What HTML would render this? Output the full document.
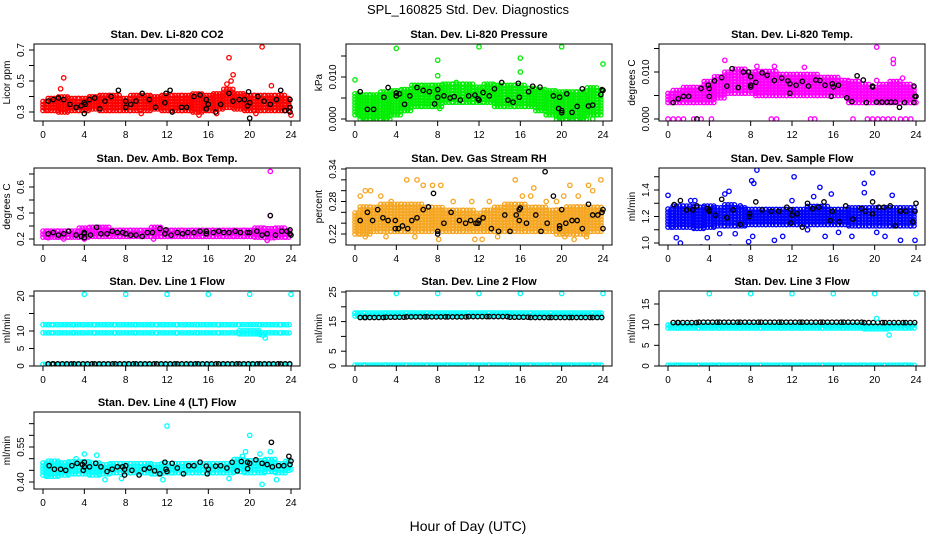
<!DOCTYPE html>
<html><head><meta charset="utf-8"><style>
html,body{margin:0;padding:0;background:#fff;}
svg{display:block;font-family:"Liberation Sans",Arial,sans-serif;}
</style></head><body>
<svg id="chart" width="936" height="540" viewBox="0 0 936 540" xmlns="http://www.w3.org/2000/svg">
<rect x="0" y="0" width="936" height="540" fill="#fff"/>
<text x="468" y="14" text-anchor="middle" font-size="13">SPL_160825  Std. Dev. Diagnostics</text>
<text x="468" y="531" text-anchor="middle" font-size="14">Hour of Day (UTC)</text>
</svg>
<script>
// ---- data ----
const xTicks = [0,4,8,12,16,20,24];

const p1Lo = [0.31,0.31,0.30,0.31,0.31,0.32,0.31,0.31,0.31,0.31,0.31,0.32,0.31,0.31,0.31,0.30,0.31,0.32,0.33,0.32,0.31,0.31,0.31,0.31,0.31];
const p1Hi = [0.38,0.40,0.41,0.40,0.40,0.41,0.41,0.41,0.40,0.41,0.42,0.41,0.41,0.41,0.42,0.42,0.42,0.43,0.46,0.43,0.42,0.42,0.41,0.41,0.40];
const p1Out = [[1.7,0.45],[2.0,0.52],[18,0.65],[18.4,0.54],[18.2,0.50],[17.8,0.48],[21.2,0.72],[22.1,0.47],[15.1,0.28],[24,0.28],[20.6,0.29],[16.8,0.29],[9.5,0.29]];
const p1Blk = [[0.5,0.37],[1,0.38],[1.5,0.39],[2,0.38],[2.6,0.35],[3.2,0.33],[3.7,0.34],[4,0.29],[4,0.36],[4.1,0.35],[4.5,0.38],[5,0.39],[5.5,0.32],[6,0.37],[6.6,0.40],[7.3,0.44],[8,0.37],[8,0.33],[8.5,0.35],[9,0.37],[9.6,0.42],[10.3,0.38],[10.9,0.33],[11.8,0.36],[11.9,0.42],[12.3,0.44],[12.5,0.30],[13.4,0.33],[13.9,0.33],[14.6,0.40],[15.2,0.41],[15.8,0.38],[15.8,0.32],[16,0.35],[16.7,0.30],[17.2,0.35],[18,0.42],[18.4,0.37],[19,0.38],[19.5,0.38],[19.8,0.34],[19.9,0.43],[20,0.36],[20,0.26],[20.8,0.40],[21.4,0.37],[22,0.35],[22.6,0.38],[23,0.44],[23.4,0.31],[23.9,0.33],[23.9,0.38],[23.9,0.30]];

const p2Lo = [0.001,0,0,0,0.001,0.002,0.003,0.003,0.003,0.004,0.004,0.004,0.004,0.004,0.003,0.003,0.003,0.003,0.002,0.001,0,0,0,0.001,0.001];
const p2Hi = [0.0065,0.006,0.006,0.007,0.007,0.0075,0.008,0.008,0.0085,0.0085,0.0085,0.0085,0.008,0.0085,0.0085,0.008,0.008,0.0075,0.0075,0.007,0.007,0.007,0.007,0.0075,0.007];
const p2Out = [[0,0.0093],[4,0.0168],[8,0.0140],[8,0.0103],[9.8,0.0087],[12,0.0172],[16,0.0145],[16,0.0112],[20,0.0172],[24,0.0131],[8.2,0.0025],[1,0],[2,0],[3,0],[20,0],[21,0],[22,0],[23,0]];
const p2Blk = [[0.5,0.0065],[1.2,0.0023],[1.8,0.0023],[2.8,0.0052],[3.2,0.0075],[4,0.0055],[4,0.0062],[4.3,0.006],[4.8,0.0035],[5.3,0.0055],[6,0.0075],[6.6,0.0068],[7.2,0.0065],[7.7,0.0036],[8,0.0052],[8,0.007],[8.6,0.0055],[9.2,0.005],[9.6,0.0053],[10.2,0.0045],[11,0.0055],[11.6,0.0057],[11.9,0.0048],[12,0.0045],[12.4,0.0063],[13,0.0055],[13.5,0.0072],[14.2,0.0087],[14.8,0.0045],[15.3,0.004],[15.8,0.0085],[15.9,0.0052],[16.8,0.0065],[17.2,0.0078],[17.9,0.0076],[19.2,0.0055],[19.7,0.0025],[20,0.002],[20,0.0015],[19.8,0.0052],[20.5,0.006],[21,0.0016],[21.5,0.003],[22,0.0072],[22.6,0.0031],[23,0.0033],[23.8,0.0058],[23.9,0.007],[24,0.0068]];

const p3Lo = [0.0035,0.0035,0.0035,0.0035,0.0035,0.0045,0.0055,0.0055,0.0055,0.005,0.005,0.005,0.005,0.005,0.005,0.005,0.005,0.005,0.0035,0.0035,0.0035,0.0035,0.0035,0.0035,0.0035];
const p3Hi = [0.006,0.0065,0.007,0.007,0.008,0.0095,0.0105,0.011,0.0105,0.0105,0.0105,0.0100,0.0095,0.010,0.0095,0.009,0.009,0.0085,0.008,0.0075,0.007,0.0075,0.008,0.0075,0.007];
const p3Out = [[0,0],[0.5,0],[1,0],[1.5,0],[2.5,0],[3.2,0],[4.2,0],[10,0],[10.5,0],[13.8,0],[14.2,0],[17.9,0],[19.3,0],[19.8,0],[20.3,0],[20.8,0],[21.3,0],[21.8,0],[22.5,0],[23,0],[23.5,0],[20.2,0.0153],[21.8,0.0127],[21.8,0.0118],[22.7,0.0087],[5.5,0.0125],[8.6,0.0112],[10.3,0.0112],[13.2,0.011],[24,0.0035],[20.2,0.0082]];
const p3Blk = [[0.5,0.0035],[1,0.0043],[1.5,0.0048],[2,0.0048],[2.8,0],[3.2,0.0065],[3.9,0.0072],[4,0.0048],[4,0.0065],[4.5,0.0081],[5.2,0.0088],[5.7,0.007],[6.2,0.0107],[6.8,0.0067],[7.3,0.0100],[7.8,0.0100],[8,0.009],[8,0.0068],[8,0.0072],[8.5,0.0078],[9.1,0.0098],[9.6,0.0093],[10.3,0.0082],[11,0.0087],[11.6,0.0081],[11.8,0.0055],[11.8,0.0075],[12.4,0.0072],[13,0.008],[13.6,0.007],[14.3,0.0083],[14.7,0.0082],[15.2,0.0072],[15.8,0.0048],[15.9,0.0075],[16,0.0068],[16.5,0.0072],[17.3,0.0045],[17.8,0.0037],[18.3,0.0092],[18.9,0.0083],[19.2,0.0035],[19.8,0.007],[19.8,0.0068],[20.2,0.0036],[20.7,0.0036],[21.2,0.0036],[21.6,0.0036],[22,0.0036],[22.4,0.0025],[22.9,0.0035],[23.8,0.007],[23.9,0.0048],[24,0.0048],[23.8,0.0035]];

const p4Lo = [0.215,0.215,0.215,0.215,0.215,0.22,0.22,0.22,0.22,0.22,0.22,0.22,0.22,0.22,0.22,0.22,0.22,0.22,0.22,0.22,0.22,0.215,0.21,0.215,0.215];
const p4Hi = [0.28,0.28,0.28,0.28,0.285,0.29,0.29,0.28,0.28,0.28,0.285,0.29,0.28,0.28,0.28,0.285,0.285,0.28,0.28,0.28,0.28,0.285,0.29,0.285,0.28];
const p4Out = [[22,0.72],[22,0.38],[4,0.20],[21.7,0.19],[10.7,0.20],[2,0.2],[0.5,0.21]];
const p4Blk = [[0.5,0.24],[1,0.25],[1.5,0.23],[2,0.24],[2.5,0.26],[3.2,0.23],[3.7,0.22],[4,0.21],[4,0.25],[4,0.24],[4.6,0.23],[5.2,0.29],[5.6,0.24],[6.2,0.24],[6.7,0.26],[7.2,0.25],[7.7,0.25],[8,0.24],[8.5,0.23],[9,0.23],[9.6,0.22],[10.1,0.25],[10.6,0.25],[11.3,0.28],[11.9,0.27],[11.8,0.24],[12.4,0.23],[13,0.25],[13.5,0.24],[14,0.25],[14.6,0.25],[15.2,0.26],[15.8,0.24],[15.8,0.26],[16.5,0.25],[17,0.26],[17.5,0.25],[18,0.25],[18.6,0.26],[19.1,0.25],[19.8,0.25],[20,0.25],[20.7,0.26],[21.2,0.23],[21.7,0.24],[22,0.38],[22.5,0.23],[23.1,0.26],[23.6,0.26],[23.9,0.27],[24,0.23],[23.9,0.24]];

const p5Lo = [0.22,0.22,0.225,0.225,0.225,0.225,0.225,0.225,0.23,0.225,0.225,0.225,0.225,0.225,0.225,0.225,0.225,0.225,0.225,0.225,0.22,0.22,0.22,0.225,0.225];
const p5Hi = [0.26,0.27,0.27,0.275,0.275,0.28,0.275,0.27,0.27,0.265,0.265,0.265,0.26,0.265,0.27,0.275,0.275,0.27,0.27,0.265,0.265,0.27,0.27,0.27,0.27];
const p5Out = [[0.5,0.29],[1,0.30],[1.5,0.30],[2.5,0.29],[3.5,0.28],[5,0.32],[6,0.32],[6.6,0.31],[7.5,0.31],[8.3,0.31],[8.1,0.21],[8.5,0.23],[9.5,0.28],[11.3,0.28],[12.3,0.21],[11.6,0.21],[13,0.28],[15.5,0.32],[16.2,0.29],[17,0.29],[17.3,0.305],[18.5,0.28],[19.5,0.28],[20.2,0.29],[20.8,0.31],[21.2,0.21],[21.6,0.29],[22.6,0.31],[23,0.30],[23.8,0.32],[3,0.215],[1,0.215],[5.8,0.215],[13.8,0.215],[20.3,0.215],[22.4,0.215]];
const p5Blk = [[0.5,0.245],[1.2,0.26],[1.7,0.245],[2.2,0.265],[2.7,0.25],[3.2,0.245],[3.9,0.245],[3.9,0.23],[4.2,0.23],[4.6,0.235],[5.1,0.23],[5.5,0.245],[6,0.25],[6.6,0.265],[7.1,0.27],[7.6,0.295],[8,0.225],[8,0.22],[8.6,0.24],[9.3,0.26],[10.1,0.245],[10.7,0.24],[11.2,0.245],[11.7,0.24],[11.9,0.24],[12,0.245],[12.4,0.25],[13.2,0.23],[13.9,0.225],[14.5,0.255],[15,0.225],[15.6,0.255],[15.9,0.245],[15.9,0.265],[16,0.268],[16.6,0.24],[17.5,0.255],[18,0.225],[18.6,0.24],[18.4,0.335],[19.2,0.29],[19.8,0.235],[19.8,0.23],[20,0.265],[20.4,0.24],[21,0.245],[21.5,0.245],[22,0.23],[22.6,0.275],[23,0.255],[23.5,0.255],[23.9,0.26],[24,0.265],[24,0.23]];

const p6Lo = [1.12,1.12,1.12,1.11,1.12,1.13,1.13,1.13,1.14,1.14,1.14,1.14,1.14,1.14,1.14,1.14,1.14,1.14,1.13,1.13,1.13,1.13,1.13,1.13,1.13];
const p6Hi = [1.27,1.28,1.28,1.27,1.28,1.28,1.29,1.28,1.26,1.26,1.26,1.27,1.27,1.27,1.28,1.28,1.27,1.27,1.27,1.27,1.27,1.27,1.28,1.27,1.27];
const p6Out = [[0,1.36],[0.8,1.04],[1.2,1.0],[2.2,1.32],[2.6,1.32],[3.2,0.97],[3.8,1.04],[5,1.07],[5.5,1.37],[5.9,1.39],[6,0.97],[6.5,1.07],[7,1.28],[7.8,1.01],[8.2,1.05],[8.1,1.47],[8.3,1.45],[8.6,1.55],[10.3,1.02],[11.1,1.05],[12,1.32],[12.2,1.50],[13.5,1.10],[14.1,1.35],[14.7,1.42],[15.2,1.05],[15.8,1.37],[16,0.97],[16.5,1.08],[17.8,1.05],[19,1.45],[19.8,1.53],[20.2,1.08],[21,1.05],[21.7,1.36],[22.5,1.02],[23.9,1.02],[19,1.38]];
const p6Blk = [[0.6,1.29],[1.2,1.32],[1.8,1.25],[2.4,1.25],[2.8,1.28],[3.8,1.26],[4,1.25],[4,1.24],[4.6,1.21],[5.2,1.33],[5.7,1.19],[6.3,1.25],[7,1.14],[7.9,1.22],[7.9,1.20],[8.5,1.31],[9.1,1.25],[10,1.24],[10.7,1.24],[11.5,1.27],[11.9,1.25],[11.9,1.15],[12,1.21],[12.5,1.22],[13,1.12],[13.5,1.30],[14,1.26],[14.6,1.27],[15.1,1.31],[15.7,1.17],[15.9,1.24],[16.6,1.16],[17.2,1.28],[17.9,1.18],[18.7,1.26],[19.1,1.24],[19.8,1.31],[19.8,1.22],[20.4,1.27],[20.9,1.27],[21.5,1.28],[22,1.13],[22.5,1.24],[23,1.24],[23.7,1.16],[23.9,1.24],[24,1.30]];

const p7HiRowLo = [11.8,11.8,11.8,11.8,11.8,11.8,11.8,11.8,11.8,11.8,11.8,11.8,11.8];
const p7HiRowHi = [12.4,12.4,12.4,12.4,12.4,12.4,12.4,12.4,12.4,12.4,12.4,12.4,12.4];
const p7MidLo = [9.5,9.5,9.5,9.5,9.5,9.5,9.5,9.5,9.5,9.5,9.2,9.5,9.5];
const p7MidHi = [10.1,10.1,10.1,10.1,10.1,10.1,10.1,10.1,10.1,10.1,10.1,10.1,10.1];
const p7ZeroLo = [0.5,0.5,0.5,0.5,0.5,0.5,0.5,0.5,0.5,0.5,0.5,0.5,0.5];
const p7ZeroHi = [0.9,0.9,0.9,0.9,0.9,0.9,0.9,0.9,0.9,0.9,0.9,0.9,0.9];
const p7BlkRow = [0.6,0.6,0.6,0.6,0.6,0.6,0.6,0.6,0.6,0.6,0.6,0.6,0.6];
const p7Out = [[4,20.5],[8,20.5],[12,20.5],[16,20.5],[20,20.5],[24,20.5],[21.5,8],[21,9],[20.8,9.5],[21.3,8.8]];

const p8TopLo = [16.9,16.9,16.9,16.9,16.9,16.9,16.9,16.9,16.9,16.9,16.9,16.9,16.9];
const p8TopHi = [18.0,18.0,18.0,18.0,18.0,18.0,18.0,18.0,18.0,18.0,18.0,18.0,18.0];
const p8ZeroLo = [0.3,0.3,0.3,0.3,0.3,0.3,0.3,0.3,0.3,0.3,0.3,0.3,0.3];
const p8ZeroHi = [0.9,0.9,0.9,0.9,0.9,0.9,0.9,0.9,0.9,0.9,0.9,0.9,0.9];
const p8BlkRow = [16.4,16.4,16.5,16.6,16.6,16.6,16.7,16.7,16.5,16.4,16.4,16.4,16.4];
const p8Out = [[4,24.5],[8,24.5],[12,24.5],[16,24.5],[20,24.5],[24,24.5],[0,17.8]];

const p9TopLo = [9.2,9.2,9.2,9.2,9.2,9.2,9.2,9.2,9.2,9.2,9.0,9.2,9.2];
const p9TopHi = [10.3,10.3,10.3,10.3,10.3,10.3,10.3,10.3,10.3,10.3,10.3,10.3,10.3];
const p9ZeroLo = [0.2,0.2,0.2,0.2,0.2,0.2,0.2,0.2,0.2,0.2,0.2,0.2,0.2];
const p9ZeroHi = [0.6,0.6,0.6,0.6,0.6,0.6,0.6,0.6,0.6,0.6,0.6,0.6,0.6];
const p9BlkRow = [10.5,10.5,10.6,10.6,10.6,10.6,10.6,10.6,10.6,10.6,10.5,10.5,10.5];
const p9Out = [[4,17.5],[8,17.5],[12,17.5],[16,17.5],[20,17.5],[24,17.5],[21.4,7.5],[20.2,11.5],[21.2,9]];

const p10Lo = [0.43,0.425,0.43,0.435,0.435,0.43,0.435,0.44,0.44,0.44,0.44,0.435,0.44,0.44,0.44,0.44,0.44,0.44,0.44,0.445,0.44,0.44,0.445,0.44,0.45];
const p10Hi = [0.49,0.49,0.485,0.49,0.49,0.49,0.48,0.48,0.48,0.48,0.48,0.48,0.48,0.485,0.485,0.49,0.485,0.485,0.49,0.50,0.50,0.50,0.50,0.49,0.49];
const p10Out = [[0.3,0.425],[3.2,0.50],[4,0.52],[5.2,0.515],[6,0.41],[7.6,0.415],[11.6,0.41],[12,0.64],[18,0.415],[19.3,0.51],[19.6,0.53],[20,0.60],[21.2,0.39],[21,0.52],[22,0.53],[22.6,0.41],[24,0.455]];
const p10Blk = [[0.6,0.47],[1.1,0.455],[1.7,0.455],[2.2,0.45],[2.8,0.47],[3.3,0.48],[3.8,0.475],[3.9,0.45],[4,0.485],[4,0.465],[4.5,0.465],[5.1,0.48],[5.6,0.465],[6.2,0.445],[6.7,0.455],[7.2,0.465],[7.7,0.465],[7.9,0.455],[7.9,0.43],[8,0.47],[8.6,0.45],[9.3,0.43],[9.8,0.455],[10.3,0.46],[10.8,0.448],[11.3,0.435],[11.8,0.485],[11.9,0.455],[12,0.445],[12.5,0.48],[13,0.46],[13.6,0.435],[14.1,0.47],[14.6,0.47],[15.2,0.485],[15.8,0.468],[15.9,0.435],[16,0.455],[16.7,0.468],[17.2,0.47],[17.8,0.46],[18.3,0.485],[18.8,0.448],[19.2,0.488],[19.8,0.485],[19.8,0.457],[20,0.48],[20.6,0.495],[21.2,0.48],[21.7,0.475],[22.1,0.57],[22.2,0.465],[22.8,0.47],[23.3,0.47],[23.8,0.51],[23.9,0.475],[24,0.49]];

const p1Ticks=[0.3,0.4,0.5,0.6,0.7], p1Labels=["0.3","","0.5","","0.7"];
const p2Ticks=[0,0.005,0.01,0.015], p2Labels=["0.000","","0.010",""];
const p3Ticks=[0,0.005,0.01,0.015], p3Labels=["0.000","","0.010",""];
const p4Ticks=[0.2,0.3,0.4,0.5,0.6,0.7], p4Labels=["0.2","","0.4","","0.6",""];
const p5Ticks=[0.22,0.24,0.26,0.28,0.30,0.32,0.34], p5Labels=["0.22","","","0.28","","","0.34"];
const p6Ticks=[1.0,1.1,1.2,1.3,1.4,1.5], p6Labels=["1.0","","1.2","","1.4",""];
const p7Ticks=[0,5,10,15,20], p7Labels=["0","5","10","","20"];
const p8Ticks=[0,5,10,15,20,25], p8Labels=["0","5","","15","","25"];
const p9Ticks=[0,5,10,15], p9Labels=["0","5","10","15"];
const p10Ticks=[0.40,0.45,0.50,0.55,0.60,0.65], p10Labels=["0.40","","","0.55","",""];

// ---- layout ----
const NS="http://www.w3.org/2000/svg";
const svg=document.getElementById('chart');
const colL=[34,346,659], rowT=[44,168,291,412], rowB=[121,245,366,489], BW=266;
function mk(tag,attrs,parent){const e=document.createElementNS(NS,tag);for(const k in attrs)e.setAttribute(k,attrs[k]);(parent||svg).appendChild(e);return e;}

const panels=[
 {title:"Stan. Dev. Li-820 CO2",yl:"Licor ppm",c:0,r:0,v0:0.3,p0:112,v1:0.7,p1:50,ticks:p1Ticks,labels:p1Labels,col:"#ff0000",bands:[[p1Lo,p1Hi,"#ff0000",3]],out:p1Out,blk:p1Blk},
 {title:"Stan. Dev. Li-820 Pressure",yl:"kPa",c:1,r:0,v0:0,p0:119,v1:0.01,p1:77,ticks:p2Ticks,labels:p2Labels,col:"#00ee00",bands:[[p2Lo,p2Hi,"#00ee00",3]],out:p2Out,blk:p2Blk},
 {title:"Stan. Dev. Li-820 Temp.",yl:"degrees C",c:2,r:0,v0:0,p0:119,v1:0.01,p1:72,ticks:p3Ticks,labels:p3Labels,col:"#ff00ff",bands:[[p3Lo,p3Hi,"#ff00ff",3.2]],out:p3Out,blk:p3Blk},
 {title:"Stan. Dev. Amb. Box Temp.",yl:"degrees C",c:0,r:1,v0:0.2,p0:239,v1:0.4,p1:213,ticks:p4Ticks,labels:p4Labels,col:"#ff00ff",bands:[[p4Lo,p4Hi,"#ff00ff",3]],out:p4Out,blk:p4Blk},
 {title:"Stan. Dev. Gas Stream RH",yl:"percent",c:1,r:1,v0:0.22,p0:234,v1:0.34,p1:169,ticks:p5Ticks,labels:p5Labels,col:"#f5a623",bands:[[p5Lo,p5Hi,"#f5a623",3.2]],out:p5Out,blk:p5Blk},
 {title:"Stan. Dev. Sample Flow",yl:"ml/min",c:2,r:1,v0:1.0,p0:243,v1:1.4,p1:190,ticks:p6Ticks,labels:p6Labels,col:"#0000ff",bands:[[p6Lo,p6Hi,"#0000ff",3.2]],out:p6Out,blk:p6Blk},
 {title:"Stan. Dev. Line 1 Flow",yl:"ml/min",c:0,r:2,v0:0,p0:366,v1:20,p1:296,ticks:p7Ticks,labels:p7Labels,col:"#00ffff",bands:[[p7HiRowLo,p7HiRowHi,"#00ffff",2.8],[p7MidLo,p7MidHi,"#00ffff",2.8],[p7ZeroLo,p7ZeroHi,"#00ffff",2.8],[p7BlkRow,p7BlkRow,"#000",4.5,0.5]],out:p7Out,blk:[]},
 {title:"Stan. Dev. Line 2 Flow",yl:"ml/min",c:1,r:2,v0:0,p0:366,v1:25,p1:292,ticks:p8Ticks,labels:p8Labels,col:"#00ffff",bands:[[p8TopLo,p8TopHi,"#00ffff",2.8],[p8ZeroLo,p8ZeroHi,"#00ffff",2.8],[p8BlkRow,p8BlkRow,"#000",4.5,0.5]],out:p8Out,blk:[]},
 {title:"Stan. Dev. Line 3 Flow",yl:"ml/min",c:2,r:2,v0:0,p0:366,v1:15,p1:304,ticks:p9Ticks,labels:p9Labels,col:"#00ffff",bands:[[p9TopLo,p9TopHi,"#00ffff",2.8],[p9ZeroLo,p9ZeroHi,"#00ffff",2.8],[p9BlkRow,p9BlkRow,"#000",4.5,0.5]],out:p9Out,blk:[]},
 {title:"Stan. Dev. Line 4 (LT) Flow",yl:"ml/min",c:0,r:3,v0:0.40,p0:482,v1:0.55,p1:447,ticks:p10Ticks,labels:p10Labels,col:"#00ffff",bands:[[p10Lo,p10Hi,"#00ffff",3.2]],out:p10Out,blk:p10Blk}
];

panels.forEach((p,pi)=>{
  const L=colL[p.c], T=rowT[p.r], B=rowB[p.r];
  const g=mk('g',{});
  
  
  const xs=t=>L+9+t*248/24;
  const ys=v=>p.p0+(v-p.v0)*(p.p1-p.p0)/(p.v1-p.v0);
  const clip=mk('clipPath',{id:'cl'+pi},g);
  mk('rect',{x:L,y:T,width:BW,height:B-T},clip);
  const marks=mk('g',{'clip-path':'url(#cl'+pi+')'},g);
  
  
  function pt(t,v,color){
    return mk('circle',{cx:xs(t).toFixed(1),cy:ys(v).toFixed(1),r:2.2,fill:'none',stroke:color,'stroke-width':1.3},marks);
  }
  p.bands.forEach(b=>{
    const lo=b[0],hi=b[1],color=b[2],dx=b[3],tStart=b[4]||0;
    const n=lo.length, step=24/(n-1);
    for(let i=0;i<n;i++){
      const ta=Math.max(tStart,(i-0.5)*step), tb=Math.min(24,(i+0.5)*step);
      const pxa=xs(ta), pxb=xs(tb);
      const yTop=ys(hi[i]), yBot=ys(lo[i]);
      for(let px=pxa;px<pxb;px+=dx){
        const t=(px-L-9)*24/248;
        if(yBot-yTop<1){pt(t,lo[i],color);continue;}
        for(let py=yBot;py>=yTop-0.1;py-=3){
          const v=p.v0+(py-p.p0)*(p.v1-p.v0)/(p.p1-p.p0);
          pt(t,v,color);
        }
      }
    }
  });
  p.out.forEach(d=>pt(d[0],d[1],p.col));
  p.blk.forEach(d=>pt(d[0],d[1],'#000'));
  const box=mk('rect',{x:L,y:T,width:BW,height:B-T,fill:'none',stroke:'#000','stroke-width':1},g);
  
  
  const tt=mk('text',{x:L+BW/2,y:T-6,'text-anchor':'middle','font-size':11,'font-weight':'bold'},g);
  tt.textContent=p.title;
  
  
  const cy=(T+B)/2;
  const yt=mk('text',{x:L-24,y:cy,'text-anchor':'middle','font-size':10,transform:'rotate(-90 '+(L-24)+' '+cy+')'},g);
  yt.textContent=p.yl;
  
  
  const yax=mk('g',{},g);
  
  
  p.ticks.forEach((v,i)=>{
    const y=ys(v);
    mk('line',{x1:L-5,x2:L,y1:y,y2:y,stroke:'#000','stroke-width':1},yax);
    if(p.labels[i]){
      const lx=L-10;
      const tl=mk('text',{x:lx,y:y,'text-anchor':'middle','font-size':10,transform:'rotate(-90 '+lx+' '+y+')'},yax);
      tl.textContent=p.labels[i];
    }
  });
  const xax=mk('g',{},g);
  
  
  xTicks.forEach(t=>{
    const x=xs(t);
    mk('line',{x1:x,x2:x,y1:B,y2:B+5,stroke:'#000','stroke-width':1},xax);
    const tl=mk('text',{x:x,y:B+17,'text-anchor':'middle','font-size':10},xax);
    tl.textContent=String(t);
  });
});
</script>
</body></html>
